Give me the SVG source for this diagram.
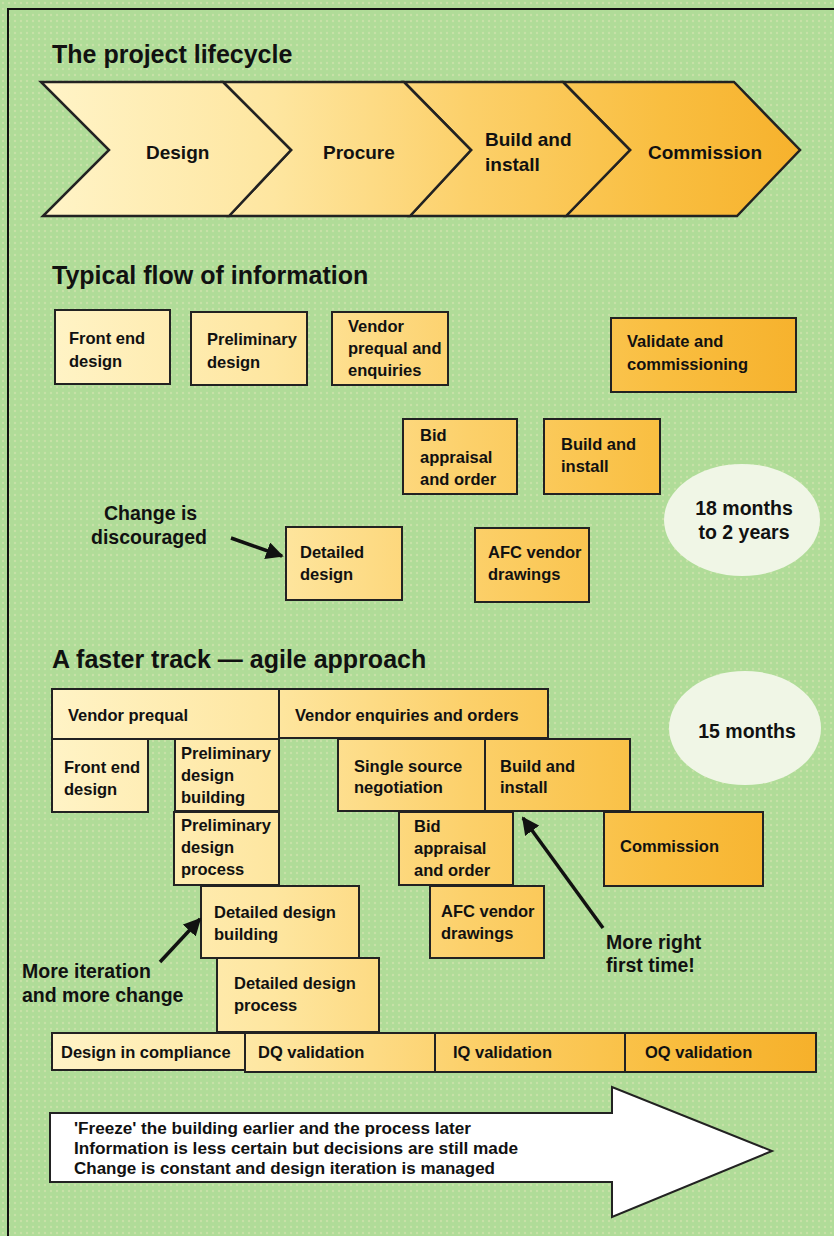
<svg xmlns="http://www.w3.org/2000/svg" width="834" height="1236" viewBox="0 0 834 1236">
<defs>
<linearGradient id="gw" gradientUnits="userSpaceOnUse" x1="40" y1="0" x2="820" y2="0">
<stop offset="0" stop-color="#fff4c8"/>
<stop offset="0.3" stop-color="#fee6a0"/>
<stop offset="0.55" stop-color="#fcd06a"/>
<stop offset="0.8" stop-color="#f9be40"/>
<stop offset="1" stop-color="#f6b02a"/>
</linearGradient>
<pattern id="dots" width="6" height="6" patternUnits="userSpaceOnUse">
<rect width="6" height="6" fill="#b0dc98"/>
<circle cx="3" cy="3" r="1.2" fill="#c8e2a8"/>
</pattern>
<marker id="ah" viewBox="0 0 10 10" refX="9" refY="5" markerWidth="5" markerHeight="5" orient="auto" markerUnits="strokeWidth">
<path d="M0,0 L10,5 L0,10 z" fill="#111"/>
</marker>
<style>
.bx{fill:url(#gw);stroke:#222;stroke-width:2}
.ch{fill:url(#gw);stroke:#222;stroke-width:2.5;stroke-linejoin:miter}
.t{font-family:"Liberation Sans",Arial,sans-serif;font-weight:bold;fill:#111}
.h{font-size:25px}
.c{font-size:19px}
.b{font-size:16.5px}
.n{font-size:19.5px}
.a{font-size:16px}
.ar{stroke:#111;stroke-width:3.5;fill:none}
</style>
</defs>
<rect x="0" y="0" width="834" height="1236" fill="url(#dots)"/>
<path d="M8,1236 V9 H834" fill="none" stroke="#111" stroke-width="2"/>

<text class="t h" x="52" y="63">The project lifecycle</text>
<g id="lifecycle">
<g id="ch-commission"><polygon class="ch" points="563,82 734,82 800,150 737,216 566,216 630,150"/><text class="t c" x="648" y="159">Commission</text></g>
<g id="ch-build"><polygon class="ch" points="404,82 563,82 630,150 566,216 410,216 471,150"/><text class="t c" x="485" y="146">Build and</text><text class="t c" x="485" y="171">install</text></g>
<g id="ch-procure"><polygon class="ch" points="223,82 404,82 471,150 410,216 229,216 291,150"/><text class="t c" x="323" y="159">Procure</text></g>
<g id="ch-design"><polygon class="ch" points="41,82 223,82 291,150 229,216 43,216 109,150"/><text class="t c" x="146" y="159">Design</text></g>
</g>

<text class="t h" x="52" y="284">Typical flow of information</text>
<g id="t-front"><rect class="bx" x="55" y="310" width="115" height="74"/><text class="t b" x="69" y="344">Front end</text><text class="t b" x="69" y="367">design</text></g>
<g id="t-prelim"><rect class="bx" x="191" y="312" width="116" height="73"/><text class="t b" x="207" y="345">Preliminary</text><text class="t b" x="207" y="368">design</text></g>
<g id="t-vendor"><rect class="bx" x="332" y="312" width="116" height="73"/><text class="t b" x="348" y="332">Vendor</text><text class="t b" x="348" y="354">prequal and</text><text class="t b" x="348" y="376">enquiries</text></g>
<g id="t-validate"><rect class="bx" x="611" y="318" width="185" height="74"/><text class="t b" x="627" y="347">Validate and</text><text class="t b" x="627" y="370">commissioning</text></g>
<g id="t-bid"><rect class="bx" x="403" y="419" width="114" height="75"/><text class="t b" x="420" y="441">Bid</text><text class="t b" x="420" y="463">appraisal</text><text class="t b" x="420" y="485">and order</text></g>
<g id="t-build"><rect class="bx" x="544" y="419" width="116" height="75"/><text class="t b" x="561" y="450">Build and</text><text class="t b" x="561" y="472">install</text></g>
<g id="t-detailed"><rect class="bx" x="286" y="527" width="116" height="73"/><text class="t b" x="300" y="558">Detailed</text><text class="t b" x="300" y="580">design</text></g>
<g id="t-afc"><rect class="bx" x="475" y="528" width="114" height="74"/><text class="t b" x="488" y="558">AFC vendor</text><text class="t b" x="488" y="580">drawings</text></g>
<g id="t-duration"><ellipse cx="742" cy="520" rx="78" ry="56" fill="#f0f6e6"/><text class="t n" x="744" y="515" text-anchor="middle">18 months</text><text class="t n" x="744" y="539" text-anchor="middle">to 2 years</text></g>
<g id="t-note"><text class="t n" x="104" y="520">Change is</text><text class="t n" x="91" y="544">discouraged</text></g>

<text class="t h" x="52" y="668">A faster track — agile approach</text>
<g id="a-vprequal"><rect class="bx" x="52" y="689" width="227" height="50"/><text class="t b" x="68" y="721">Vendor prequal</text></g>
<g id="a-venq"><rect class="bx" x="279" y="689" width="269" height="49"/><text class="t b" x="295" y="721">Vendor enquiries and orders</text></g>
<g id="a-front"><rect class="bx" x="52" y="739" width="96" height="73"/><text class="t b" x="64" y="773">Front end</text><text class="t b" x="64" y="795">design</text></g>
<g id="a-pdb"><rect class="bx" x="175" y="739" width="104" height="72"/><text class="t b" x="181" y="759">Preliminary</text><text class="t b" x="181" y="781">design</text><text class="t b" x="181" y="803">building</text></g>
<g id="a-pdp"><rect class="bx" x="174" y="812" width="105" height="73"/><text class="t b" x="181" y="831">Preliminary</text><text class="t b" x="181" y="853">design</text><text class="t b" x="181" y="875">process</text></g>
<g id="a-single"><rect class="bx" x="338" y="739" width="147" height="72"/><text class="t b" x="354" y="772">Single source</text><text class="t b" x="354" y="793">negotiation</text></g>
<g id="a-build"><rect class="bx" x="485" y="739" width="145" height="72"/><text class="t b" x="500" y="772">Build and</text><text class="t b" x="500" y="793">install</text></g>
<g id="a-bid"><rect class="bx" x="399" y="812" width="114" height="73"/><text class="t b" x="414" y="832">Bid</text><text class="t b" x="414" y="854">appraisal</text><text class="t b" x="414" y="876">and order</text></g>
<g id="a-commission"><rect class="bx" x="604" y="812" width="159" height="74"/><text class="t b" x="620" y="852">Commission</text></g>
<g id="a-ddb"><rect class="bx" x="201" y="886" width="158" height="72"/><text class="t b" x="214" y="918">Detailed design</text><text class="t b" x="214" y="940">building</text></g>
<g id="a-afc"><rect class="bx" x="430" y="886" width="114" height="72"/><text class="t b" x="441" y="917">AFC vendor</text><text class="t b" x="441" y="939">drawings</text></g>
<g id="a-ddp"><rect class="bx" x="217" y="958" width="162" height="74"/><text class="t b" x="234" y="989">Detailed design</text><text class="t b" x="234" y="1011">process</text></g>
<g id="a-dic"><rect class="bx" x="52" y="1033" width="193" height="37"/><text class="t b" x="61" y="1058">Design in compliance</text></g>
<g id="a-dq"><rect class="bx" x="245" y="1033" width="190" height="39"/><text class="t b" x="258" y="1058">DQ validation</text></g>
<g id="a-iq"><rect class="bx" x="435" y="1033" width="190" height="39"/><text class="t b" x="453" y="1058">IQ validation</text></g>
<g id="a-oq"><rect class="bx" x="625" y="1033" width="191" height="39"/><text class="t b" x="645" y="1058">OQ validation</text></g>
<g id="a-duration"><ellipse cx="745" cy="728" rx="76" ry="57" fill="#f0f6e6"/><text class="t n" x="747" y="738" text-anchor="middle">15 months</text></g>
<g id="a-note1"><text class="t n" x="22" y="978">More iteration</text><text class="t n" x="22" y="1002">and more change</text></g>
<g id="a-note2"><text class="t n" x="606" y="949">More right</text><text class="t n" x="606" y="972">first time!</text></g>

<g id="connectors">
<line class="ar" x1="231" y1="538" x2="282" y2="556" marker-end="url(#ah)"/>
<line class="ar" x1="603" y1="928" x2="523" y2="818" marker-end="url(#ah)"/>
<line class="ar" x1="160" y1="962" x2="200" y2="919" marker-end="url(#ah)"/>
</g>

<g id="big-arrow">
<polygon points="50,1113 612,1113 612,1087 772,1151 612,1217 612,1182 50,1182" fill="#fff" stroke="#222" stroke-width="2"/>
<text class="t a" x="74" y="1134" textLength="397" lengthAdjust="spacingAndGlyphs">'Freeze' the building earlier and the process later</text>
<text class="t a" x="74" y="1154" textLength="444" lengthAdjust="spacingAndGlyphs">Information is less certain but decisions are still made</text>
<text class="t a" x="74" y="1174" textLength="421" lengthAdjust="spacingAndGlyphs">Change is constant and design iteration is managed</text>
</g>
</svg>
